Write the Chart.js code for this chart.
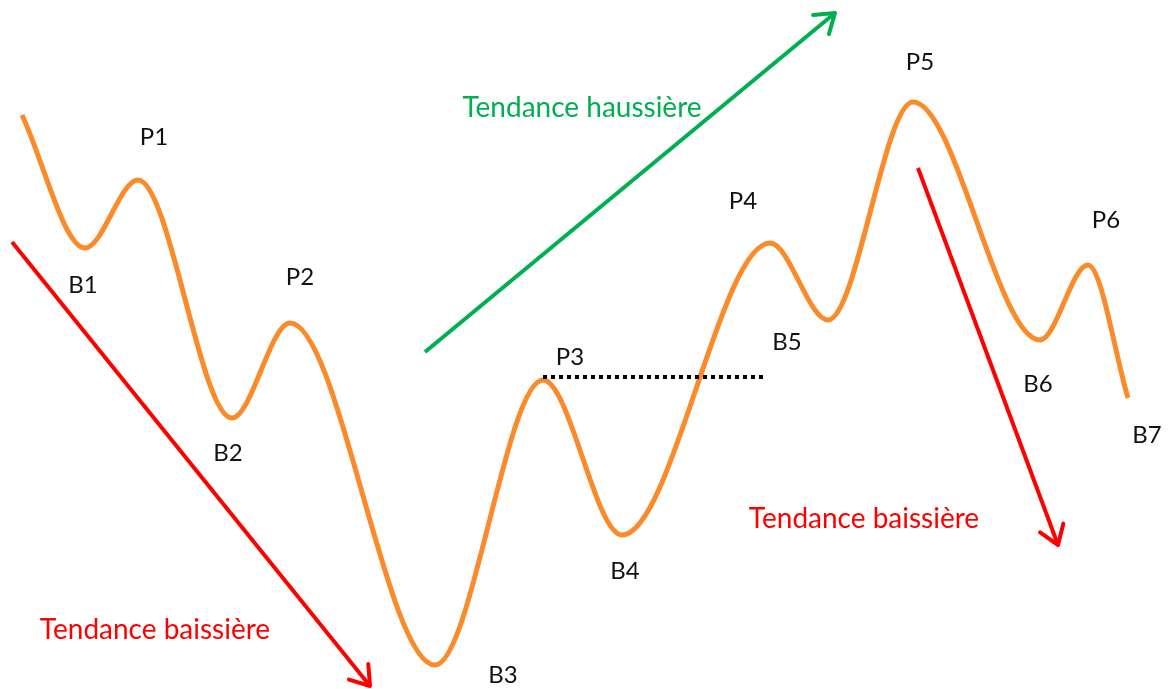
<!DOCTYPE html>
<html>
<head>
<meta charset="utf-8">
<script src="https://cdn.jsdelivr.net/npm/chart.js@4"></script>
<style>
  html, body { margin: 0; padding: 0; background: #fff; }
  #wrap { width: 1168px; height: 689px; }
</style>
</head>
<body>
<div id="wrap"><canvas id="chart" width="1168" height="689"></canvas></div>
<script>
// price path: start, swing lows (B) and highs (P), end
const priceX = [22, 85, 138, 232, 290, 435, 543, 622, 770, 828, 913, 1040, 1088, 1128];
const priceY = [115, 248, 180, 418, 323, 665, 380, 535, 243, 320, 102, 340, 265, 398];

// trend arrows (start -> tip)
const downArrow1X = [12, 370];
const downArrow1Y = [242, 686];
const upArrowX = [425, 835];
const upArrowY = [352, 13];
const downArrow2X = [918, 1058];
const downArrow2Y = [168, 545];

// resistance line at P3
const levelX = [543, 765];
const levelY = [377, 377];

// point labels
const pointNames = ["P1", "B1", "P2", "B2", "B3", "P3", "B4", "P4", "B5", "P5", "B6", "P6", "B7"];
const pointLabelX = [154, 83, 300, 228, 503, 570, 625, 743, 787, 920, 1038, 1106, 1147];
const pointLabelY = [137, 285, 277, 453, 675, 357, 571, 201, 342, 62, 384, 220, 435];

const trendNames = ["Tendance haussière", "Tendance baissière", "Tendance baissière"];
const trendX = [582, 155, 864];
const trendY = [108, 630, 519];
const trendColors = ["#00b050", "#ff0000", "#ff0000"];

function pts(xs, ys) {
    return xs.map((x, i) => ({ x: x, y: ys[i] }));
}

const ORANGE = "#fb8a2a";

const labelsPlugin = {
    id: "labels",
    afterDatasetsDraw(chart) {
        const ctx = chart.ctx;
        const sx = chart.scales.x, sy = chart.scales.y;

        // arrow heads on the trend datasets
        chart.data.datasets.forEach((ds, i) => {
            if (!ds.arrow) return;
            const meta = chart.getDatasetMeta(i);
            const a = meta.data[meta.data.length - 2];
            const b = meta.data[meta.data.length - 1];
            const ang = Math.atan2(b.y - a.y, b.x - a.x);
            const len = 22;
            ctx.save();
            ctx.strokeStyle = ds.borderColor;
            ctx.lineWidth = ds.borderWidth;
            ctx.lineCap = "round";
            ctx.lineJoin = "round";
            ctx.beginPath();
            ctx.moveTo(b.x - len * Math.cos(ang - 0.6), b.y - len * Math.sin(ang - 0.6));
            ctx.lineTo(b.x, b.y);
            ctx.lineTo(b.x - len * Math.cos(ang + 0.6), b.y - len * Math.sin(ang + 0.6));
            ctx.stroke();
            ctx.restore();
        });

        ctx.save();
        ctx.textAlign = "center";
        ctx.textBaseline = "middle";
        ctx.font = "24px Lato";
        ctx.fillStyle = "#111";
        pointNames.forEach((t, i) => {
            ctx.fillText(t, sx.getPixelForValue(pointLabelX[i]), sy.getPixelForValue(pointLabelY[i]));
        });
        ctx.font = "28px Lato";
        trendNames.forEach((t, i) => {
            ctx.fillStyle = trendColors[i];
            ctx.fillText(t, sx.getPixelForValue(trendX[i]), sy.getPixelForValue(trendY[i]));
        });
        ctx.restore();
    }
};

new Chart(document.getElementById("chart"), {
    type: "scatter",
    data: {
        datasets: [
            {
                data: pts(levelX, levelY),
                showLine: true,
                borderColor: "#000",
                borderWidth: 4,
                borderDash: [4, 4],
                pointRadius: 0
            },
            {
                data: pts(priceX, priceY),
                showLine: true,
                borderColor: ORANGE,
                borderWidth: 5,
                cubicInterpolationMode: "monotone",
                pointRadius: 0
            },
            {
                data: pts(downArrow1X, downArrow1Y),
                showLine: true,
                borderColor: "#ff0000",
                borderWidth: 4,
                pointRadius: 0,
                arrow: true
            },
            {
                data: pts(upArrowX, upArrowY),
                showLine: true,
                borderColor: "#00b050",
                borderWidth: 4,
                pointRadius: 0,
                arrow: true
            },
            {
                data: pts(downArrow2X, downArrow2Y),
                showLine: true,
                borderColor: "#ff0000",
                borderWidth: 4,
                pointRadius: 0,
                arrow: true
            }
        ]
    },
    options: {
        responsive: false,
        animation: false,
        layout: { padding: 0 },
        plugins: {
            legend: { display: false },
            tooltip: { enabled: false }
        },
        scales: {
            x: { type: "linear", display: false, min: 0, max: 1168 },
            y: { type: "linear", display: false, min: 0, max: 689, reverse: true }
        }
    },
    plugins: [labelsPlugin]
});
</script>
</body>
</html>
